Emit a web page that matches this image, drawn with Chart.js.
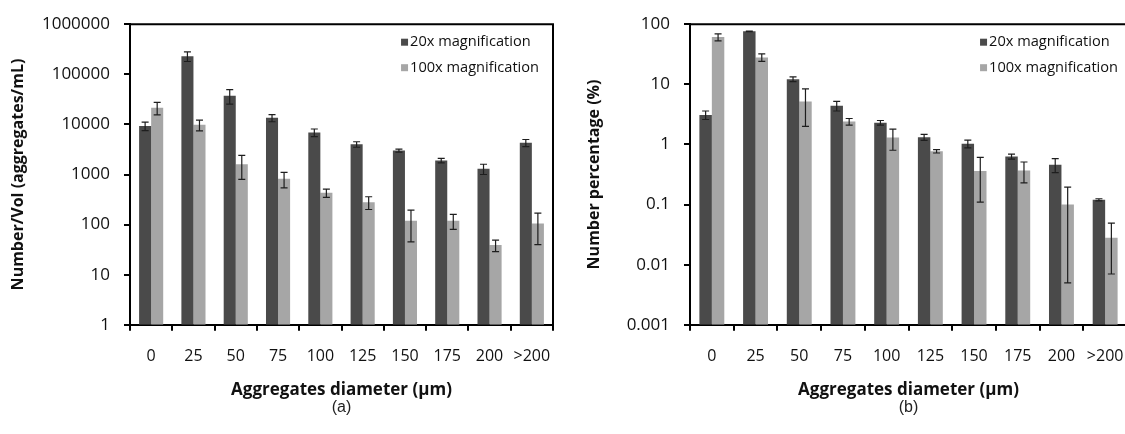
<!DOCTYPE html>
<html>
<head>
<meta charset="utf-8">
<script src="https://cdn.jsdelivr.net/npm/chart.js@4.4.0/dist/chart.umd.min.js"></script>
<style>
  html, body { margin: 0; padding: 0; background: #fff; overflow: hidden; width: 1125px; height: 434px; }
  canvas { position: absolute; top: 0; }
  #chartA { left: 0; }
  #chartB { left: 560px; }
</style>
</head>
<body>
<canvas id="chartA" width="560" height="434"></canvas>
<canvas id="chartB" width="570" height="434"></canvas>
<script>
// categories and series names
const diameters = ['0', '25', '50', '75', '100', '125', '150', '175', '200', '>200'];
const seriesNames = ['20x magnification', '100x magnification'];

// (a) number per volume (aggregates/mL)
const volume20x = [9300, 230000, 37500, 13500, 6900, 4000, 3000, 1900, 1300, 4300];
const volume20xErr = [1800, 50000, 12000, 2200, 1200, 500, 200, 200, 300, 700];
const volume100x = [21500, 9800, 1600, 820, 430, 280, 120, 120, 39, 105];
const volume100xErr = [6000, 2400, 800, 280, 80, 80, 75, 40, 10, 65];
const volumeTicks = [1, 10, 100, 1000, 10000, 100000, 1000000];

// (b) number percentage (%)
const percent20x = [3.1, 76, 12.2, 4.4, 2.3, 1.32, 1.03, 0.63, 0.46, 0.12];
const percent20xErr = [0.5, 1, 1.1, 0.8, 0.2, 0.15, 0.15, 0.06, 0.12, 0.005];
const percent100x = [61, 28, 5.2, 2.4, 1.3, 0.77, 0.36, 0.37, 0.1, 0.028];
const percent100xErr = [8, 4, 3.2, 0.3, 0.5, 0.05, 0.25, 0.14, 0.095, 0.021];
const percentTicks = [0.001, 0.01, 0.1, 1, 10, 100];

const darkGrey = '#4a4a4a';
const lightGrey = '#a6a6a6';
const textColor = '#111';
const fontFamily = '"Open Sans", "DejaVu Sans", sans-serif';

// error bars drawn from each dataset's errors array
const errorBarPlugin = {
    id: 'errorBars',
    afterDatasetsDraw(chart) {
        const ctx = chart.ctx;
        const yScale = chart.scales.y;
        ctx.save();
        ctx.strokeStyle = '#1e1e1e';
        ctx.lineWidth = 1.2;
        chart.data.datasets.forEach((ds, i) => {
            const meta = chart.getDatasetMeta(i);
            meta.data.forEach((bar, j) => {
                const v = ds.data[j];
                const e = ds.errors[j];
                const top = yScale.getPixelForValue(v + e);
                const low = v - e;
                const bottom = low > 0 ? yScale.getPixelForValue(low) : yScale.bottom;
                const x = bar.x;
                ctx.beginPath();
                ctx.moveTo(x, top); ctx.lineTo(x, bottom);
                ctx.moveTo(x - 3.5, top); ctx.lineTo(x + 3.5, top);
                ctx.moveTo(x - 3.5, bottom); ctx.lineTo(x + 3.5, bottom);
                ctx.stroke();
            });
        });
        ctx.restore();
    }
};

// legend inside the plot, top right
const insideLegend = {
    id: 'insideLegend',
    afterDraw(chart, args, opts) {
        const ctx = chart.ctx;
        const area = chart.chartArea;
        ctx.save();
        ctx.font = '14.6px ' + fontFamily;
        const widths = chart.data.datasets.map(d => ctx.measureText(d.label).width);
        const textX = area.right - opts.marginRight - Math.max(...widths);
        chart.data.datasets.forEach((d, i) => {
            const y = area.top + 18 + i * 25.5;
            ctx.fillStyle = d.backgroundColor;
            ctx.fillRect(textX - 9, y - 3.5, 7, 7);
            ctx.fillStyle = textColor;
            ctx.textBaseline = 'middle';
            ctx.fillText(d.label, textX, y);
        });
        ctx.restore();
    }
};

// top and right edges of the plot frame
const framePlugin = {
    id: 'frame',
    afterDraw(chart) {
        const ctx = chart.ctx;
        const a = chart.chartArea;
        ctx.save();
        ctx.strokeStyle = '#000';
        ctx.lineWidth = 2;
        ctx.beginPath();
        ctx.moveTo(a.left, a.top);
        ctx.lineTo(a.right, a.top);
        ctx.lineTo(a.right, a.bottom);
        ctx.stroke();
        ctx.restore();
    }
};

function makeChart(canvasId, cfg) {
    const ctx = document.getElementById(canvasId).getContext('2d');
    return new Chart(ctx, {
        type: 'bar',
        data: {
            labels: diameters,
            datasets: [{
                label: seriesNames[0],
                data: cfg.values20x,
                errors: cfg.errors20x,
                backgroundColor: darkGrey
            }, {
                label: seriesNames[1],
                data: cfg.values100x,
                errors: cfg.errors100x,
                backgroundColor: lightGrey
            }]
        },
        options: {
            responsive: false,
            animation: false,
            barPercentage: 1,
            categoryPercentage: 0.57,
            layout: { padding: { top: 24, right: cfg.rightPad, left: 0, bottom: 0 } },
            plugins: {
                legend: { display: false },
                tooltip: { enabled: false },
                title: {
                    display: true,
                    text: cfg.panel,
                    position: 'bottom',
                    fullSize: false,
                    color: '#222',
                    font: { family: '"Liberation Sans", Arial, sans-serif', size: 16, weight: 'normal' },
                    padding: { top: 3, bottom: 17 }
                },
                insideLegend: { marginRight: cfg.legendMargin }
            },
            scales: {
                x: {
                    grid: { offset: true, drawOnChartArea: false, tickLength: 6, color: '#000', lineWidth: 2 },
                    border: { display: true, color: '#000', width: 2 },
                    ticks: { color: textColor, padding: 16, maxRotation: 0, font: { family: fontFamily, size: 16 } },
                    title: {
                        display: true,
                        text: 'Aggregates diameter (µm)',
                        color: textColor,
                        padding: 0,
                        font: { family: fontFamily, size: 17, weight: 'bold', lineHeight: 0.5 }
                    },
                    afterFit(scale) {
                        scale.height = 70;
                        scale.paddingLeft = 0;
                        scale.paddingRight = 0;
                    }
                },
                y: {
                    type: 'logarithmic',
                    min: cfg.ticks[0],
                    max: cfg.ticks[cfg.ticks.length - 1],
                    afterBuildTicks(scale) { scale.ticks = cfg.ticks.map(v => ({ value: v })); },
                    grid: { drawOnChartArea: false, tickLength: 6, color: '#000', lineWidth: 2 },
                    border: { display: true, color: '#000', width: 2 },
                    ticks: {
                        color: textColor,
                        padding: 14,
                        font: { family: fontFamily, size: 17 },
                        callback: v => String(v)
                    },
                    title: {
                        display: true,
                        text: cfg.yTitle,
                        color: textColor,
                        padding: { top: cfg.yTitlePad, bottom: 0 },
                        font: { family: fontFamily, size: 16, weight: 'bold' }
                    },
                    afterFit(scale) { scale.width = 130; }
                }
            }
        },
        plugins: [errorBarPlugin, insideLegend, framePlugin]
    });
}

makeChart('chartA', {
    values20x: volume20x, errors20x: volume20xErr,
    values100x: volume100x, errors100x: volume100xErr,
    ticks: volumeTicks,
    yTitle: 'Number/Vol (aggregates/mL)',
    yTitlePad: 9,
    panel: '(a)',
    rightPad: 7,
    legendMargin: 14
});

makeChart('chartB', {
    values20x: percent20x, errors20x: percent20xErr,
    values100x: percent100x, errors100x: percent100xErr,
    ticks: percentTicks,
    yTitle: 'Number percentage (%)',
    yTitlePad: 25,
    panel: '(b)',
    rightPad: 3,
    legendMargin: 9
});
</script>
</body>
</html>
